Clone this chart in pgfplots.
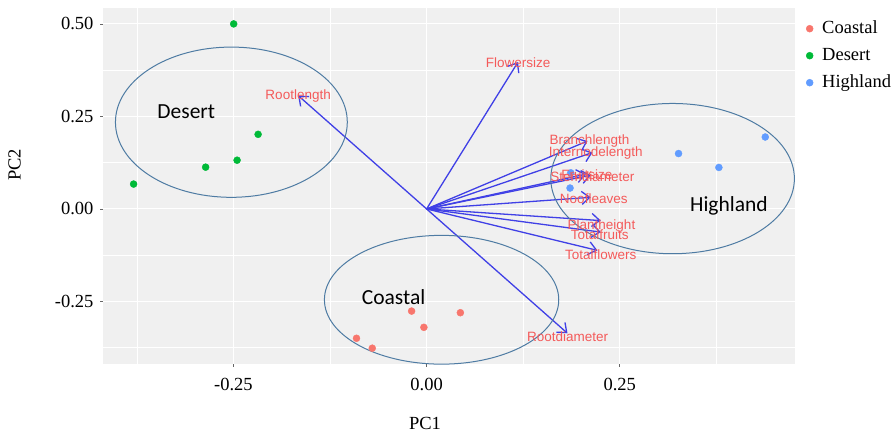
\documentclass[border=0pt]{standalone}
\usepackage{fontspec}
\setmainfont{Liberation Serif}
\newfontfamily\timesf{Liberation Serif}
\newfontfamily\arialf{Liberation Sans}
\newfontfamily\calibrif{Carlito}
\usepackage{pgfplots}
\usepackage{pgfplotstable}
\pgfplotsset{compat=1.18}
\usetikzlibrary{arrows.meta}

\definecolor{coastal}{HTML}{F8766D}
\definecolor{desert}{HTML}{00BA38}
\definecolor{highland}{HTML}{619CFF}
\definecolor{arrowc}{HTML}{4040E6}
\definecolor{labc}{HTML}{F45A5A}
\definecolor{ellc}{HTML}{4E7BA3}
\definecolor{panel}{HTML}{F0F0F0}

\pgfplotstableread{
x y
-0.0194 -0.2760
0.0437 -0.2804
-0.0035 -0.3199
-0.0907 -0.3495
-0.0703 -0.3763
}\coastaldata
\pgfplotstableread{
x y
-0.2496 0.5000
-0.2180 0.2016
-0.2452 0.1317
-0.2859 0.1129
-0.3791 0.0672
}\desertdata
\pgfplotstableread{
x y
0.4382 0.1944
0.3260 0.1497
0.3782 0.1121
0.1865 0.0976
0.1856 0.0565
}\highlanddata
\pgfplotstableread{
x0 y0 x y lx ly label
0 0 0.1183 0.3970 0.1183 0.3960 Flowersize
0 0 -0.1662 0.3065 -0.1662 0.3065 Rootlength
0 0 0.1823 -0.3360 0.1826 -0.3440 Rootdiameter
0 0 0.2082 0.1836 0.2108 0.1836 Branchlength
0 0 0.2146 0.1524 0.2189 0.1505 Internodelength
0 0 0.2124 0.0914 0.2146 0.0879 Stemdiameter
0 0 0.2060 0.0940 0.2073 0.0927 Fruitsize
0 0 0.2124 0.0315 0.2163 0.0288 Noofleaves
0 0 0.2254 -0.0315 0.2263 -0.0465 Plantheight
0 0 0.2254 -0.0626 0.2241 -0.0691 Totalfruits
0 0 0.2211 -0.1121 0.2254 -0.1228 Totalflowers
}\loadings

\begin{document}
\begin{tikzpicture}
\useasboundingbox (0,0) rectangle (895bp,434bp);
\begin{axis}[
  at={(103bp,70bp)}, anchor=south west,
  scale only axis, width=692bp, height=356bp,
  xmin=-0.4187, xmax=0.4767, ymin=-0.419, ymax=0.543,
  clip=false,
  axis background/.style={fill=panel},
  axis line style={draw=none},
  xtick={-0.25,0,0.25}, xticklabels={-0.25,0.00,0.25},
  ytick={-0.25,0,0.25,0.5}, yticklabels={-0.25,0.00,0.25,0.50},
  minor xtick={-0.375,-0.125,0.125,0.375},
  minor ytick={-0.375,-0.125,0.125,0.375},
  grid=both,
  major grid style={white, line width=1.1bp},
  minor grid style={white, line width=0.5bp},
  tick align=outside, tick pos=left,
  major tick length=3bp, minor tick length=0bp,
  tick style={gray!80!black, line width=0.8bp},
  tick label style={font=\timesf\fontsize{18.5bp}{20bp}\selectfont, text=black},
  xticklabel style={yshift=-8bp},
  yticklabel style={xshift=-3bp},
  legend style={at={(rel axis cs:1,1)}, anchor=north west, xshift=8bp, yshift=-10bp,
    draw=none, fill=none, font=\timesf\fontsize{18.5bp}{20bp}\selectfont,
    nodes={inner sep=0pt, text height=13bp, text depth=4bp},
    row sep=10bp, column sep=9bp},
  legend cell align=left,
]
\addplot[only marks, mark=*, mark size=3.5bp, coastal, mark options={draw=coastal, fill=coastal}] table[x=x,y=y] {\coastaldata};
\addlegendentry{\timesf\fontsize{18.5bp}{20bp}\selectfont Coastal}
\addplot[only marks, mark=*, mark size=3.5bp, desert, mark options={draw=desert, fill=desert}] table[x=x,y=y] {\desertdata};
\addlegendentry{\timesf\fontsize{18.5bp}{20bp}\selectfont Desert}
\addplot[only marks, mark=*, mark size=3.5bp, highland, mark options={draw=highland, fill=highland}] table[x=x,y=y] {\highlanddata};
\addlegendentry{\timesf\fontsize{18.5bp}{20bp}\selectfont Highland}

\addplot[draw=none, mark=none, nodes near coords, point meta=explicit symbolic,
  nodes near coords style={anchor=center, inner sep=0pt, text=labc, font=\arialf\fontsize{13.5bp}{14bp}\selectfont}]
  table[x=lx, y=ly, meta=label] {\loadings};

\addplot[arrowc, line width=1.3bp, -{Straight Barb[length=8bp, width=13bp, line width=1.3bp]},
  quiver={u=\thisrow{x}, v=\thisrow{y}}] table[x=x0, y=y0] {\loadings};

\draw[ellc, line width=1bp] (axis cs:-0.2526,0.2344) ellipse [x radius=0.150, y radius=0.203];
\draw[ellc, line width=1bp] (axis cs:0.0194,-0.2454) ellipse [x radius=0.1516, y radius=0.174];
\draw[ellc, line width=1bp] (axis cs:0.3183,0.0820) ellipse [x radius=0.1576, y radius=0.203];

\node[font=\calibrif\fontsize{21.5bp}{23bp}\selectfont] at (axis cs:-0.3109,0.2616) {Desert};
\node[font=\calibrif\fontsize{21.5bp}{23bp}\selectfont] at (axis cs:-0.0427,-0.2392) {Coastal};
\node[font=\calibrif\fontsize{21.5bp}{23bp}\selectfont] at (axis cs:0.3912,0.0089) {Highland};
\end{axis}
\node[font=\timesf\fontsize{18.5bp}{20bp}\selectfont] at (425bp,11bp) {PC1};
\node[font=\timesf\fontsize{18.5bp}{20bp}\selectfont, rotate=90] at (14.5bp,269bp) {PC2};
\end{tikzpicture}
\end{document}
